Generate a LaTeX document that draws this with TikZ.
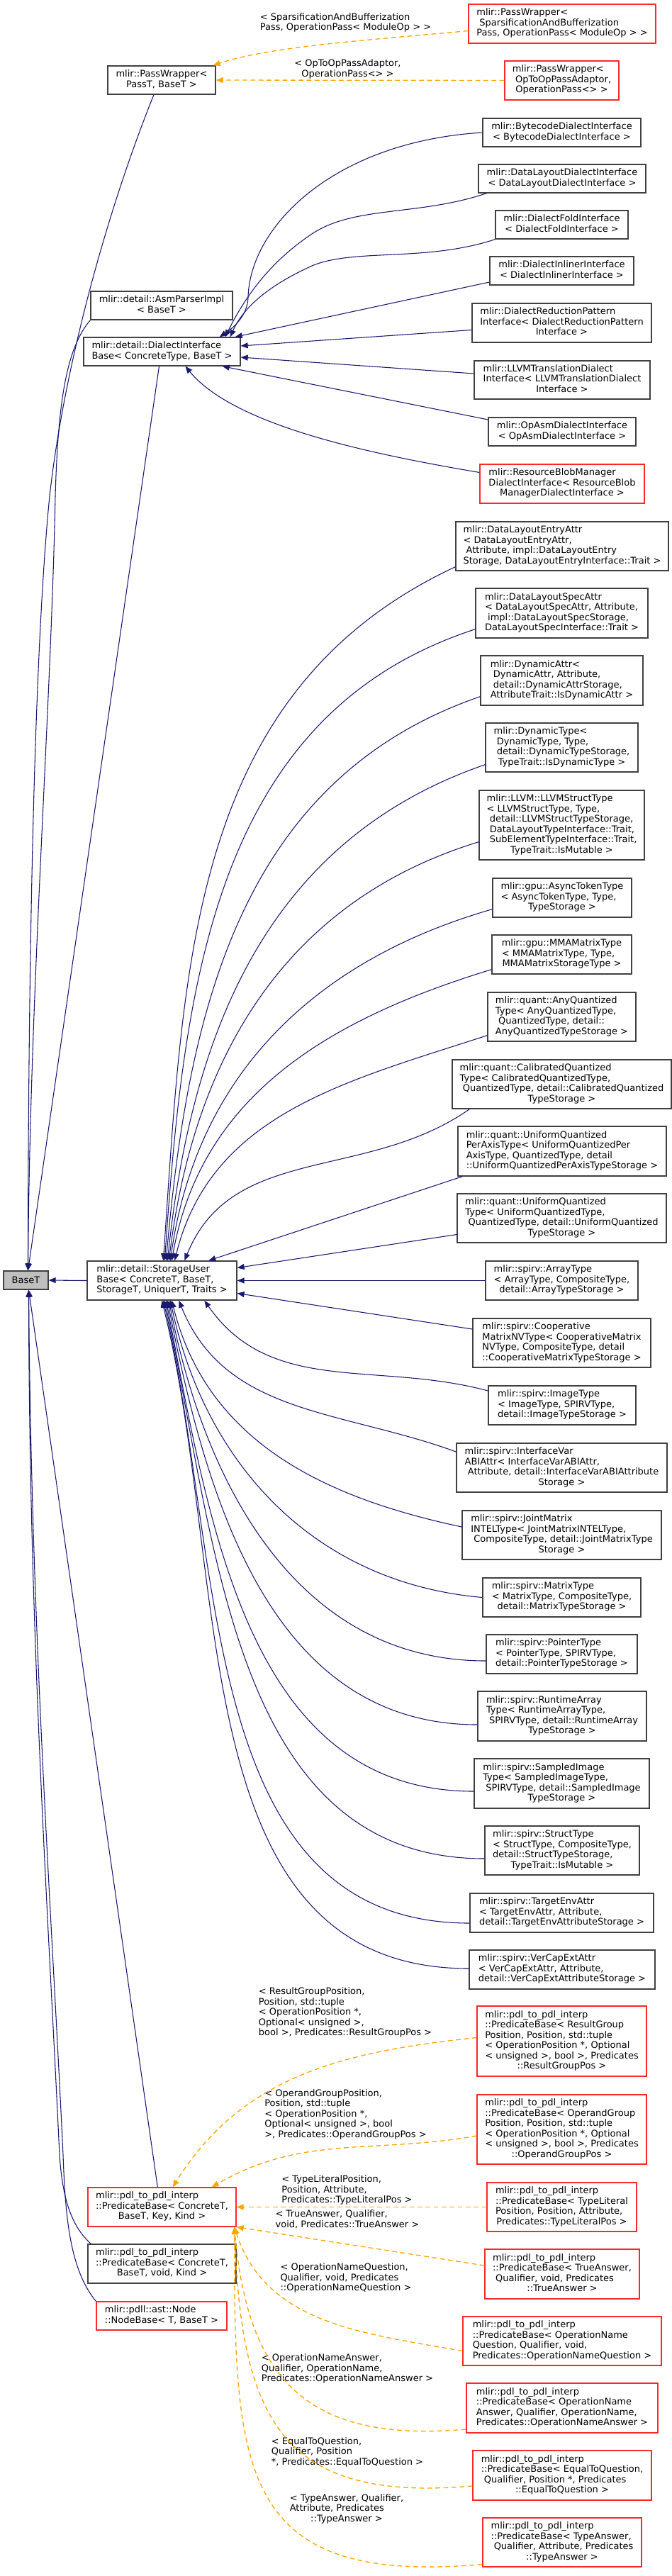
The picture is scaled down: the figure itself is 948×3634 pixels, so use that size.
\documentclass[tikz,border=0pt]{standalone}
\usepackage{fontspec}
\setmainfont{DejaVu Sans}
\usetikzlibrary{arrows.meta,calc}
\definecolor{navy}{RGB}{25,25,112}
\definecolor{tmplorange}{RGB}{255,165,0}
\definecolor{boxred}{RGB}{255,40,40}
\definecolor{boxgray}{RGB}{64,64,64}
\definecolor{basegray}{RGB}{191,191,191}
\newcommand\nf{\fontsize{9.75pt}{10.875pt}\selectfont}
\newcommand\dxl[2]{\begin{tabular}{@{}l@{}}#1\multicolumn{1}{@{}c@{}}{#2}\end{tabular}}
\begin{document}
\begin{tikzpicture}[x=0.75pt,y=-0.75pt,
 box/.style={draw=boxgray, line width=1pt, fill=white, inner sep=0pt, font=\nf},
 rbox/.style={box, draw=boxred},
 sz/.style 2 args={minimum width=#1*0.75pt, minimum height=#2*0.75pt},
 lab/.style={font=\nf, inner sep=0pt},
 inh/.style={draw=navy, line width=0.8pt, -{Triangle[length=7.5pt,width=6pt]}},
 tmpl/.style={draw=tmplorange, line width=1pt, dash pattern=on 5pt off 3.5pt, -{Triangle[length=7.5pt,width=6pt]}},
]
\useasboundingbox (0,0) rectangle (948,3634);

% ---------- nodes ----------
\node[rbox, sz={264}{55}] (pwS) at (793,33.5) {\dxl{mlir::PassWrapper<\\\ SparsificationAndBufferization\\}{Pass, OperationPass< ModuleOp > >}};
\node[box, sz={152}{40}] (pw) at (228,113) {\dxl{mlir::PassWrapper<\\}{PassT, BaseT >}};
\node[rbox, sz={161}{55}] (pwO) at (792.5,113.5) {\dxl{mlir::PassWrapper<\\\ OpToOpPassAdaptor,\\}{OperationPass<> >}};
\node[box, sz={223}{40}] (bc) at (792.5,187) {\dxl{mlir::BytecodeDialectInterface\\}{< BytecodeDialectInterface >}};
\node[box, sz={236}{40}] (dld) at (793,252) {\dxl{mlir::DataLayoutDialectInterface\\}{< DataLayoutDialectInterface >}};
\node[box, sz={187}{40}] (dfi) at (792.5,317) {\dxl{mlir::DialectFoldInterface\\}{< DialectFoldInterface >}};
\node[box, sz={203}{40}] (dii) at (792.5,382) {\dxl{mlir::DialectInlinerInterface\\}{< DialectInlinerInterface >}};
\node[box, sz={200}{40}] (asm) at (228,431) {\dxl{mlir::detail::AsmParserImpl\\}{< BaseT >}};
\node[box, sz={253}{55}] (drp) at (792.5,455.5) {\dxl{mlir::DialectReductionPattern\\Interface< DialectReductionPattern\\}{Interface >}};
\node[box, sz={221}{40}] (dib) at (228.5,496) {\dxl{mlir::detail::DialectInterface\\}{Base< ConcreteType, BaseT >}};
\node[box, sz={248}{54}] (llvmt) at (793,536) {\dxl{mlir::LLVMTranslationDialect\\Interface< LLVMTranslationDialect\\}{Interface >}};
\node[box, sz={208}{40}] (opasm) at (793,609) {\dxl{mlir::OpAsmDialectInterface\\}{< OpAsmDialectInterface >}};
\node[rbox, sz={232}{55}] (rbm) at (793,682.5) {\dxl{mlir::ResourceBlobManager\\DialectInterface< ResourceBlob\\}{ManagerDialectInterface >}};
\node[box, sz={300}{69}] (dle) at (793,770.5) {\dxl{mlir::DataLayoutEntryAttr\\< DataLayoutEntryAttr,\\\ Attribute, impl::DataLayoutEntry\\}{Storage, DataLayoutEntryInterface::Trait >}};
\node[box, sz={243}{70}] (dls) at (792.5,865) {\dxl{mlir::DataLayoutSpecAttr\\< DataLayoutSpecAttr, Attribute,\\\ impl::DataLayoutSpecStorage,\\}{DataLayoutSpecInterface::Trait >}};
\node[box, sz={229}{70}] (dya) at (792.5,960) {\dxl{mlir::DynamicAttr<\\\ DynamicAttr, Attribute,\\\ detail::DynamicAttrStorage,\\}{AttributeTrait::IsDynamicAttr >}};
\node[box, sz={215}{69}] (dyt) at (792.5,1054.5) {\dxl{mlir::DynamicType<\\\ DynamicType, Type,\\\ detail::DynamicTypeStorage,\\}{TypeTrait::IsDynamicType >}};
\node[box, sz={233}{98}] (llst) at (792.5,1164) {\dxl{mlir::LLVM::LLVMStructType\\< LLVMStructType, Type,\\\ detail::LLVMStructTypeStorage,\\\ DataLayoutTypeInterface::Trait,\\\ SubElementTypeInterface::Trait,\\}{TypeTrait::IsMutable >}};
\node[box, sz={196}{55}] (att) at (793,1266.5) {\dxl{mlir::gpu::AsyncTokenType\\< AsyncTokenType, Type,\\}{TypeStorage >}};
\node[box, sz={197}{55}] (mma) at (792.5,1346.5) {\dxl{mlir::gpu::MMAMatrixType\\< MMAMatrixType, Type,\\}{MMAMatrixStorageType >}};
\node[box, sz={209}{69}] (anq) at (792.5,1434.5) {\dxl{mlir::quant::AnyQuantized\\Type< AnyQuantizedType,\\\ QuantizedType, detail::\\}{AnyQuantizedTypeStorage >}};
\node[box, sz={309}{69}] (caq) at (792.5,1529.5) {\dxl{mlir::quant::CalibratedQuantized\\Type< CalibratedQuantizedType,\\\ QuantizedType, detail::CalibratedQuantized\\}{TypeStorage >}};
\node[box, sz={294}{70}] (upa) at (793,1624) {\dxl{mlir::quant::UniformQuantized\\PerAxisType< UniformQuantizedPer\\AxisType, QuantizedType, detail\\}{::UniformQuantizedPerAxisTypeStorage >}};
\node[box, sz={295}{69}] (uq) at (792.5,1718.5) {\dxl{mlir::quant::UniformQuantized\\Type< UniformQuantizedType,\\\ QuantizedType, detail::UniformQuantized\\}{TypeStorage >}};
\node[box, sz={211}{55}] (sub) at (228.5,1806.5) {\dxl{mlir::detail::StorageUser\\Base< ConcreteT, BaseT,\\}{StorageT, UniquerT, Traits >}};
\node[box, fill=basegray, sz={63}{26}] (baseT) at (36.5,1806) {BaseT};
\node[box, sz={215}{55}] (arr) at (792.5,1806.5) {\dxl{mlir::spirv::ArrayType\\< ArrayType, CompositeType,\\}{detail::ArrayTypeStorage >}};
\node[box, sz={251}{69}] (coop) at (792.5,1894.5) {\dxl{mlir::spirv::Cooperative\\MatrixNVType< CooperativeMatrix\\NVType, CompositeType, detail\\}{::CooperativeMatrixTypeStorage >}};
\node[box, sz={208}{55}] (img) at (793,1982.5) {\dxl{mlir::spirv::ImageType\\< ImageType, SPIRVType,\\}{detail::ImageTypeStorage >}};
\node[box, sz={297}{69}] (iva) at (792.5,2070.5) {\dxl{mlir::spirv::InterfaceVar\\ABIAttr< InterfaceVarABIAttr,\\\ Attribute, detail::InterfaceVarABIAttribute\\}{Storage >}};
\node[box, sz={281}{69}] (jm) at (792.5,2165.5) {\dxl{mlir::spirv::JointMatrix\\INTELType< JointMatrixINTELType,\\\ CompositeType, detail::JointMatrixType\\}{Storage >}};
\node[box, sz={223}{55}] (mat) at (792.5,2253.5) {\dxl{mlir::spirv::MatrixType\\< MatrixType, CompositeType,\\}{detail::MatrixTypeStorage >}};
\node[box, sz={213}{55}] (ptr) at (792.5,2333.5) {\dxl{mlir::spirv::PointerType\\< PointerType, SPIRVType,\\}{detail::PointerTypeStorage >}};
\node[box, sz={238}{70}] (rta) at (793,2421) {\dxl{mlir::spirv::RuntimeArray\\Type< RuntimeArrayType,\\\ SPIRVType, detail::RuntimeArray\\}{TypeStorage >}};
\node[box, sz={247}{70}] (smi) at (792.5,2516) {\dxl{mlir::spirv::SampledImage\\Type< SampledImageType,\\\ SPIRVType, detail::SampledImage\\}{TypeStorage >}};
\node[box, sz={218}{69}] (stt) at (793,2610.5) {\dxl{mlir::spirv::StructType\\< StructType, CompositeType,\\detail::StructTypeStorage,\\}{TypeTrait::IsMutable >}};
\node[box, sz={259}{55}] (tea) at (792.5,2698.5) {\dxl{mlir::spirv::TargetEnvAttr\\< TargetEnvAttr, Attribute,\\}{detail::TargetEnvAttributeStorage >}};
\node[box, sz={262}{55}] (vce) at (793,2778.5) {\dxl{mlir::spirv::VerCapExtAttr\\< VerCapExtAttr, Attribute,\\}{detail::VerCapExtAttributeStorage >}};
\node[rbox, sz={239}{99}] (rgp) at (792.5,2879.5) {\dxl{mlir::pdl\_to\_pdl\_interp\\::PredicateBase< ResultGroup\\Position, Position, std::tuple\\< OperationPosition *, Optional\\< unsigned >, bool >, Predicates\\}{::ResultGroupPos >}};
\node[rbox, sz={239}{98}] (ogp) at (792.5,3004) {\dxl{mlir::pdl\_to\_pdl\_interp\\::PredicateBase< OperandGroup\\Position, Position, std::tuple\\< OperationPosition *, Optional\\< unsigned >, bool >, Predicates\\}{::OperandGroupPos >}};
\node[rbox, sz={209}{55}] (pbk) at (228.5,3113.5) {\dxl{mlir::pdl\_to\_pdl\_interp\\::PredicateBase< ConcreteT,\\}{BaseT, Key, Kind >}};
\node[rbox, sz={211}{69}] (tlp) at (792.5,3113.5) {\dxl{mlir::pdl\_to\_pdl\_interp\\::PredicateBase< TypeLiteral\\Position, Position, Attribute,\\}{Predicates::TypeLiteralPos >}};
\node[box, sz={209}{55}] (pbv) at (228.5,3193.5) {\dxl{mlir::pdl\_to\_pdl\_interp\\::PredicateBase< ConcreteT,\\}{BaseT, void, Kind >}};
\node[rbox, sz={218}{70}] (tra) at (793,3208) {\dxl{mlir::pdl\_to\_pdl\_interp\\::PredicateBase< TrueAnswer,\\\ Qualifier, void, Predicates\\}{::TrueAnswer >}};
\node[rbox, sz={184}{40}] (nb) at (228,3267) {\dxl{mlir::pdll::ast::Node\\}{::NodeBase< T, BaseT >}};
\node[rbox, sz={280}{69}] (onq) at (793,3302.5) {\dxl{mlir::pdl\_to\_pdl\_interp\\::PredicateBase< OperationName\\Question, Qualifier, void,\\}{Predicates::OperationNameQuestion >}};
\node[rbox, sz={270}{70}] (ona) at (793,3397) {\dxl{mlir::pdl\_to\_pdl\_interp\\::PredicateBase< OperationName\\Answer, Qualifier, OperationName,\\}{Predicates::OperationNameAnswer >}};
\node[rbox, sz={252}{70}] (etq) at (793,3492) {\dxl{mlir::pdl\_to\_pdl\_interp\\::PredicateBase< EqualToQuestion,\\\ Qualifier, Position *, Predicates\\}{::EqualToQuestion >}};
\node[rbox, sz={224}{69}] (tya) at (793,3586.5) {\dxl{mlir::pdl\_to\_pdl\_interp\\::PredicateBase< TypeAnswer,\\\ Qualifier, Attribute, Predicates\\}{::TypeAnswer >}};

% ---------- edge labels ----------
\node[lab] (l1) at (487.5,32.5) {\dxl{< SparsificationAndBufferization\\}{Pass, OperationPass< ModuleOp > >}};
\node[lab] (l2) at (490.5,98) {\dxl{< OpToOpPassAdaptor,\\}{OperationPass<> >}};
\node[lab] (l3) at (487,2840) {\dxl{< ResultGroupPosition,\\Position, std::tuple\\< OperationPosition *,\\Optional< unsigned >,\\}{bool >, Predicates::ResultGroupPos >}};
\node[lab] (l4) at (487.5,2983.5) {\dxl{< OperandGroupPosition,\\Position, std::tuple\\< OperationPosition *,\\Optional< unsigned >, bool\\}{>, Predicates::OperandGroupPos >}};
\node[lab] (l5) at (489.5,3090.5) {\dxl{< TypeLiteralPosition,\\Position, Attribute,\\}{Predicates::TypeLiteralPos >}};
\node[lab] (l6) at (490,3132) {\dxl{< TrueAnswer, Qualifier,\\}{void, Predicates::TrueAnswer >}};
\node[lab] (l7) at (488,3214.5) {\dxl{< OperationNameQuestion,\\Qualifier, void, Predicates\\}{::OperationNameQuestion >}};
\node[lab] (l8) at (490,3342.5) {\dxl{< OperationNameAnswer,\\Qualifier, OperationName,\\}{Predicates::OperationNameAnswer >}};
\node[lab] (l9) at (490,3460) {\dxl{< EqualToQuestion,\\Qualifier, Position\\}{*, Predicates::EqualToQuestion >}};
\node[lab] (l10) at (489,3540) {\dxl{< TypeAnswer, Qualifier,\\Attribute, Predicates\\}{::TypeAnswer >}};

% ---------- template instance edges (orange) ----------
\draw[tmpl] ($(pwS.west)+(0,10)$) .. controls (540,55) and (380,65) .. ($(pw.north east)+(-4,0)$);
\draw[tmpl] (pwO.west) -- (pw.east);
\draw[tmpl] ($(rgp.west)+(0,-5)$) to[out=186,in=58] ($(pbk.north east)+(-90,0)$);
\draw[tmpl] ($(ogp.west)+(0,9)$) to[out=190,in=30] ($(pbk.north east)+(-35,0)$);
\draw[tmpl] (tlp.west) -- (pbk.east);
\draw[tmpl] ($(tra.west)+(0,-12)$) -- (pbk.south east);
\draw[tmpl] ($(onq.west)+(0,14)$) to[out=170,in=-72] ($(pbk.south east)+(-3,0)$);
\draw[tmpl] ($(ona.west)+(0,30)$) to[out=185,in=-85,looseness=1.3] ($(pbk.south east)+(-3,0)$);
\draw[tmpl] ($(etq.west)+(0,15)$) to[out=185,in=-88,looseness=1.4] ($(pbk.south east)+(-3,0)$);
\draw[tmpl] ($(tya.west)+(0,31)$) to[out=185,in=-90,looseness=1.5] ($(pbk.south east)+(-3,0)$);

% ---------- inheritance edges into BaseT ----------
\draw[inh] ($(pw.south)+(-11,0)$) .. controls (150,300) and (90,520) .. (70,700) .. controls (50,900) and (40,1300) .. ($(baseT.north)+(3,0)$);
\draw[inh] (asm.south west) .. controls (95,490) and (82,560) .. (78,700) .. controls (72,1000) and (42,1400) .. ($(baseT.north)+(3,0)$);
\draw[inh] ($(dib.south)+(-4,0)$) -- ($(baseT.north)+(3,0)$);
\draw[inh] (sub.west) -- (baseT.east);
\draw[inh] ($(pbk.north west)+(99,0)$) -- ($(baseT.south)+(4,0)$);
\draw[inh] ($(pbv.north west)+(5,0)$) .. controls (100,3140) and (88,3100) .. (84,3040) .. controls (68,2700) and (41,2300) .. ($(baseT.south)+(4,0)$);
\draw[inh] (nb.north west) .. controls (97,3200) and (92,3120) .. (89,3040) .. controls (73,2700) and (44,2300) .. ($(baseT.south)+(4,0)$);

% ---------- into DialectInterfaceBase ----------
\draw[inh] (bc.west) .. controls (470,200) and (352,320) .. (350,420) .. controls (349,445) and (330,462) .. ($(dib.north east)+(-30,0)$);
\draw[inh] ($(dld.south west)+(12,0)$) .. controls (590,305) and (500,290) .. (440,330) .. controls (380,370) and (345,420) .. ($(dib.north east)+(-22,0)$);
\draw[inh] (dfi.south west) .. controls (600,370) and (500,350) .. (440,375) .. controls (385,400) and (345,430) .. ($(dib.north east)+(-15,0)$);
\draw[inh] ($(dii.west)+(0,16)$) -- ($(dib.north east)+(-8,0)$);
\draw[inh] ($(drp.west)+(0,10)$) -- ($(dib.east)+(0,-8)$);
\draw[inh] ($(llvmt.west)+(0,-9)$) -- ($(dib.east)+(0,8)$);
\draw[inh] ($(opasm.west)+(0,-17)$) -- ($(dib.south east)+(-26,0)$);
\draw[inh] ($(rbm.west)+(0,-16)$) .. controls (520,640) and (330,600) .. ($(dib.south)+(33,0)$);

% ---------- into StorageUserBase (from above) ----------
\draw[inh] ($(dle.south west)+(0,-6)$) to[out=205,in=86] ($(sub.north west)+(108,0)$);
\draw[inh] ($(dls.south west)+(0,-13)$) to[out=198,in=86] ($(sub.north west)+(110,0)$);
\draw[inh] ($(dya.south west)+(0,-13)$) to[out=199,in=85] ($(sub.north west)+(112,0)$);
\draw[inh] ($(dyt.south west)+(0,-11)$) to[out=199,in=84] ($(sub.north west)+(114,0)$);
\draw[inh] ($(llst.south west)+(0,-26)$) to[out=197,in=83] ($(sub.north west)+(116,0)$);
\draw[inh] ($(att.south west)+(0,-12)$) to[out=196,in=82] ($(sub.north west)+(118,0)$);
\draw[inh] ($(mma.south west)+(0,-7)$) to[out=197,in=80] ($(sub.north west)+(120,0)$);
\draw[inh] ($(anq.south west)+(0,-9)$) to[out=198,in=76] ($(sub.north west)+(124,0)$);
\draw[inh] ($(caq.south west)+(25,0)$) to[out=215,in=68] ($(sub.north west)+(138,0)$);
\draw[inh] ($(upa.south west)+(7,0)$) -- ($(sub.north west)+(172,0)$);
\draw[inh] ($(uq.west)+(0,23)$) -- ($(sub.east)+(0,-18)$);
\draw[inh] (arr.west) -- (sub.east);
\draw[inh] ($(coop.west)+(0,-19.5)$) -- ($(sub.east)+(0,18)$);

% ---------- into StorageUserBase (from below) ----------
\draw[inh] ($(img.west)+(0,-20.5)$) to[out=165,in=-55] ($(sub.south west)+(166,0)$);
\draw[inh] ($(iva.west)+(0,-22.5)$) to[out=160,in=-68] ($(sub.south west)+(130,0)$);
\draw[inh] ($(jm.west)+(0,-11.5)$) to[out=168,in=-76] ($(sub.south west)+(120,0)$);
\draw[inh] (mat.west) to[out=175,in=-78] ($(sub.south west)+(118,0)$);
\draw[inh] ($(ptr.west)+(0,9.5)$) to[out=180,in=-79] ($(sub.south west)+(116,0)$);
\draw[inh] ($(rta.west)+(0,12)$) to[out=180,in=-79] ($(sub.south west)+(114,0)$);
\draw[inh] ($(smi.west)+(0,11)$) to[out=180,in=-79] ($(sub.south west)+(112,0)$);
\draw[inh] ($(stt.west)+(0,11.5)$) to[out=180,in=-78] ($(sub.south west)+(110,0)$);
\draw[inh] ($(tea.west)+(0,14.5)$) to[out=180,in=-77] ($(sub.south west)+(108,0)$);
\draw[inh] ($(vce.west)+(0,-1.5)$) to[out=180,in=-76] ($(sub.south west)+(106,0)$);
\end{tikzpicture}
\end{document}
